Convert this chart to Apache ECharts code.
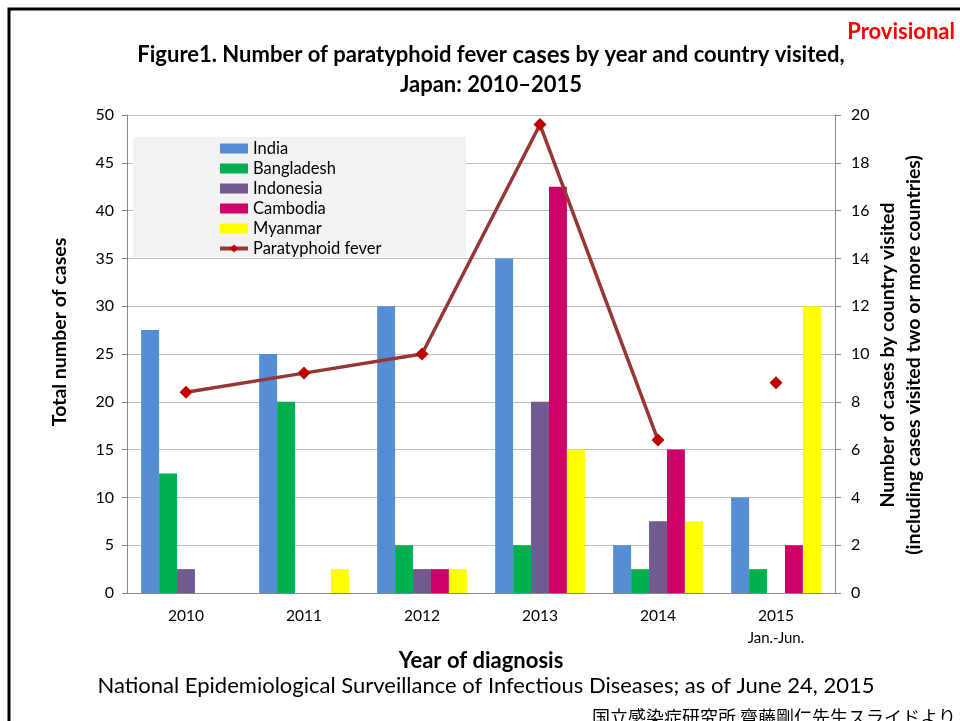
<!DOCTYPE html>
<html>
<head>
<meta charset="utf-8">
<script src="https://cdn.jsdelivr.net/npm/echarts@6/dist/echarts.min.js"></script>
<style>html,body{margin:0;padding:0;background:#fff}#c{width:960px;height:721px}</style>
</head>
<body>
<div id="c"></div>
<script>
const years = ['2010', '2011', '2012', '2013', '2014', '2015'];
const india = [11, 10, 12, 14, 2, 4];
const bangladesh = [5, 8, 2, 2, 1, 1];
const indonesia = [1, 0, 1, 8, 3, 0];
const cambodia = [0, 0, 1, 17, 6, 2];
const myanmar = [0, 1, 1, 6, 3, 12];
const totalCases = [21, 23, 25, 49, 16, 22];
const leftTicks = [0, 50, 5];
const rightTicks = [0, 20, 2];

const F = 'Lato, "Open Sans", sans-serif';
const chart = echarts.init(document.getElementById('c'));

function bar(name, data, color) {
  return {
    name, type: 'bar', yAxisIndex: 1, data: data.map(v => v === 0 ? '-' : v),
    itemStyle: { color }, barGap: '0%', barCategoryGap: '24%'
  };
}
const lineStyleCommon = {
  type: 'line', yAxisIndex: 0, symbol: 'diamond', symbolSize: 13,
  itemStyle: { color: '#c00000' }, lineStyle: { color: '#953735', width: 3.5 }, z: 5
};
const partialIdx = totalCases.length - 1;

chart.setOption({
  animation: false,
  grid: { left: 127, right: 125, top: 115, bottom: 128 },
  legend: {
    orient: 'vertical', left: 218, top: 140, padding: 0,
    itemWidth: 28, itemHeight: 10, itemGap: 3,
    textStyle: { fontFamily: F, fontSize: 16.5, color: '#000', lineHeight: 15 },
    data: [
      { name: 'India', icon: 'rect' }, { name: 'Bangladesh', icon: 'rect' },
      { name: 'Indonesia', icon: 'rect' }, { name: 'Cambodia', icon: 'rect' },
      { name: 'Myanmar', icon: 'rect' }, { name: 'Paratyphoid fever', lineStyle: { width: 4 } }
    ],
    z: 6
  },
  xAxis: {
    type: 'category', data: years,
    name: 'Year of diagnosis', nameLocation: 'middle', nameGap: 47,
    nameTextStyle: { fontFamily: F, fontSize: 22, fontWeight: 'bold', color: '#000' },
    axisLine: { lineStyle: { color: '#868686' } },
    axisTick: { length: 6, lineStyle: { color: '#868686' } },
    axisLabel: {
      fontFamily: F, fontSize: 15, color: '#000', margin: 12,
      formatter: v => v === '2015' ? '{a|2015}\n{b|Jan.-Jun.}' : '{a|' + v + '}',
      rich: { a: { fontFamily: F, fontSize: 15.5, color: '#000', lineHeight: 22 },
              b: { fontFamily: F, fontSize: 15, color: '#000', lineHeight: 22 } }
    }
  },
  yAxis: [
    {
      type: 'value', min: leftTicks[0], max: leftTicks[1], interval: leftTicks[2],
      axisLine: { show: true, lineStyle: { color: '#868686' } },
      axisTick: { show: true, length: 5, lineStyle: { color: '#868686' } },
      axisLabel: { fontFamily: F, fontSize: 16, color: '#000', margin: 13 },
      splitLine: { lineStyle: { color: '#bcbcbc' } }
    },
    {
      type: 'value', min: rightTicks[0], max: rightTicks[1], interval: rightTicks[2],
      position: 'right',
      axisLine: { show: true, lineStyle: { color: '#868686' } },
      axisTick: { show: true, length: 6, lineStyle: { color: '#868686' } },
      axisLabel: { fontFamily: F, fontSize: 16, color: '#000', margin: 16 },
      splitLine: { show: false }
    }
  ],
  series: [
    bar('India', india, '#558ed5'),
    bar('Bangladesh', bangladesh, '#00b050'),
    bar('Indonesia', indonesia, '#72598f'),
    bar('Cambodia', cambodia, '#cc0066'),
    bar('Myanmar', myanmar, '#ffff00'),
    Object.assign({ name: 'Paratyphoid fever', data: totalCases.map((v, i) => i < partialIdx ? v : '-') }, lineStyleCommon),
    Object.assign({ name: 'Paratyphoid fever', data: totalCases.map((v, i) => i === partialIdx ? v : '-') }, lineStyleCommon)
  ],
  graphic: [
    { type: 'rect', z: -1, shape: { x: 9, y: 9, width: 1000, height: 800 },
      style: { fill: 'none', stroke: '#000', lineWidth: 3 } },
    { type: 'rect', z: 1, shape: { x: 133, y: 137, width: 333, height: 120 },
      style: { fill: '#f2f2f2' } },
    { type: 'text', x: 955, y: 32, style: { text: 'Provisional', fill: '#ff0000',
      font: 'bold 22px ' + F, textAlign: 'right', textVerticalAlign: 'middle' } },
    { type: 'text', x: 491, y: 55, style: {
      text: '{t|Figure1. Number of paratyphoid fever }{c|cases}{t| by year and country visited,}',
      rich: { t: { fontFamily: F, fontWeight: 'bold', fontSize: 22, fill: '#000' },
              c: { fontFamily: F, fontWeight: 'bold', fontSize: 24, fill: '#000' } },
      textAlign: 'center', textVerticalAlign: 'middle' } },
    { type: 'text', x: 491, y: 85, style: { text: 'Japan: 2010\u20132015',
      fill: '#000', font: 'bold 22px ' + F, textAlign: 'center', textVerticalAlign: 'middle' } },
    { type: 'text', x: 60, y: 332, rotation: Math.PI / 2, style: { text: 'Total number of cases',
      fill: '#000', font: 'bold 19.5px ' + F, textAlign: 'center', textVerticalAlign: 'middle' } },
    { type: 'text', x: 888, y: 355, rotation: Math.PI / 2, style: { text: 'Number of cases by country visited',
      fill: '#000', font: 'bold 19.5px ' + F, textAlign: 'center', textVerticalAlign: 'middle' } },
    { type: 'text', x: 914, y: 355, rotation: Math.PI / 2, style: { text: '(including cases visited two or more countries)',
      fill: '#000', font: 'bold 19.5px ' + F, textAlign: 'center', textVerticalAlign: 'middle' } },
    { type: 'text', x: 486, y: 686, style: { text: 'National Epidemiological Surveillance of Infectious Diseases; as of June 24, 2015',
      fill: '#000', font: '22px ' + F, textAlign: 'center', textVerticalAlign: 'middle' } },
    { type: 'text', x: 956, y: 717, style: { text: '国立感染症研究所 齋藤剛仁先生スライドより',
      fill: '#000', font: '18px "Noto Sans CJK JP", sans-serif', textAlign: 'right', textVerticalAlign: 'middle' } }
  ]
});
</script>
</body>
</html>
